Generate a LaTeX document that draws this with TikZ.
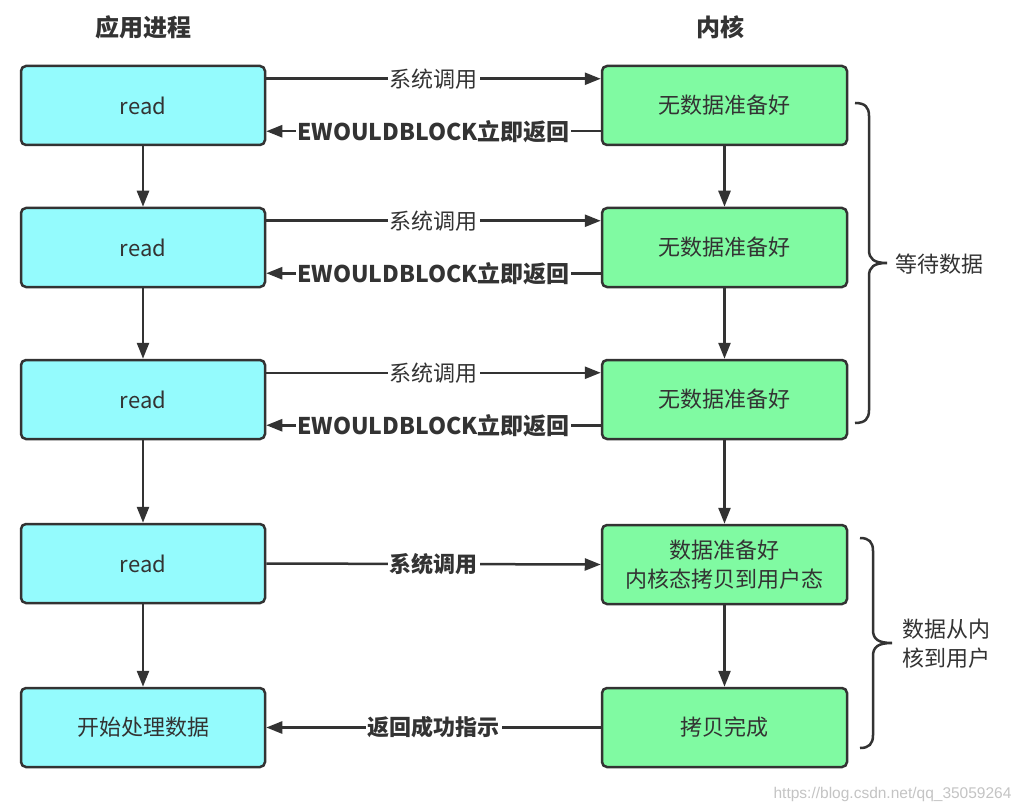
\documentclass[tikz,border=0pt]{standalone}
\usepackage{fontspec}
\setmainfont{Noto Sans CJK SC}
\newfontfamily\wmfont{Liberation Sans}
\usetikzlibrary{arrows.meta,calc}
\definecolor{appc}{HTML}{94FBFD}
\definecolor{kerc}{HTML}{80FAA2}
\definecolor{linec}{HTML}{333333}
\definecolor{txt}{HTML}{333333}
\definecolor{wmc}{HTML}{C4C4C4}
\tikzset{
  box/.style={draw=linec, line width=2.5pt, rounded corners=5pt, minimum height=79pt, text=txt, align=center, font=\fontsize{22}{29}\selectfont},
  app/.style={box, fill=appc, minimum width=244pt},
  ker/.style={box, fill=kerc, minimum width=245pt},
  conn/.style={draw=linec, line width=2.5pt, -{Triangle[length=16pt,width=12pt]}},
  lbl/.style={fill=white, text=txt, inner sep=2pt, font=\fontsize{22}{26}\selectfont},
  lblb/.style={lbl, font=\fontsize{22}{26}\selectfont\bfseries},
  lble/.style={lbl, inner sep=1pt, font=\fontsize{23}{26}\selectfont\bfseries},
  head/.style={text=txt, font=\fontsize{24}{28}\selectfont\bfseries},
  brace/.style={draw=linec, line width=2.5pt},
  side/.style={text=txt, align=left, font=\fontsize{22}{29}\selectfont}
}
\begin{document}
\begin{tikzpicture}[x=1pt,y=-1pt]
\useasboundingbox[fill=white] (0,0) rectangle (1019,810);
\node[head] (h1) at (143,27) {应用进程};
\node[head] (h2) at (720,27) {内核};

\node[app] (a1) at (143,105.5) {read};
\node[app] (a2) at (143,247.5) {read};
\node[app] (a3) at (143,399.5) {read};
\node[app] (a4) at (143,563.5) {read};
\node[app] (a5) at (143,727.5) {开始处理数据};

\node[ker] (k1) at (724.5,105.5) {无数据准备好};
\node[ker] (k2) at (724.5,247.5) {无数据准备好};
\node[ker] (k3) at (724.5,399.5) {无数据准备好};
\node[ker] (k4) at (724.5,564.5) {数据准备好\\内核态拷贝到用户态};
\node[ker] (k5) at (724.5,727.5) {拷贝完成};

% vertical arrows
\draw[conn] (a1) -- (a2);
\draw[conn] (a2) -- (a3);
\draw[conn] (a3) -- (a4);
\draw[conn] (a4) -- (a5);
\draw[conn] (k1) -- (k2);
\draw[conn] (k2) -- (k3);
\draw[conn] (k3) -- (k4);
\draw[conn] (k4) -- (k5);

% horizontal arrows
\foreach \i in {1,2,3}{
  \draw[conn] ($(a\i.north east)+(0,14)$) -- node[lbl]{系统调用} ($(k\i.north west)+(0,14)$);
  \draw[conn] ($(k\i.south west)+(0,-15)$) -- node[lble]{EWOULDBLOCK立即返回} ($(a\i.south east)+(0,-15)$);
}
\draw[conn] (a4.east) -- node[lblb]{系统调用} (k4.west);
\draw[conn] (k5.west) -- node[lblb]{返回成功指示} (a5.east);

% braces
\draw[brace] (855,103) .. controls (865,103) and (869,107) .. (869,116) -- (869,250)
  .. controls (869,259) and (874,263) .. (887,263)
  .. controls (874,263) and (869,267) .. (869,276) -- (869,410)
  .. controls (869,419) and (865,423) .. (855,423);
\draw[brace] (860,538) .. controls (869,538) and (873,542) .. (873,551) -- (873,630)
  .. controls (873,639) and (878,643) .. (892,643)
  .. controls (878,643) and (873,647) .. (873,656) -- (873,735)
  .. controls (873,744) and (869,748) .. (860,748);
\node[side, anchor=west] (s1) at (892,264) {等待数据};
\node[side, anchor=west] (s2) at (899,644) {数据从内\\核到用户};

\node[text=wmc, font=\wmfont\fontsize{15.5}{18}\selectfont, anchor=east] (wm) at (1015,794) {https://blog.csdn.net/qq\_35059264};
\end{tikzpicture}
\end{document}
